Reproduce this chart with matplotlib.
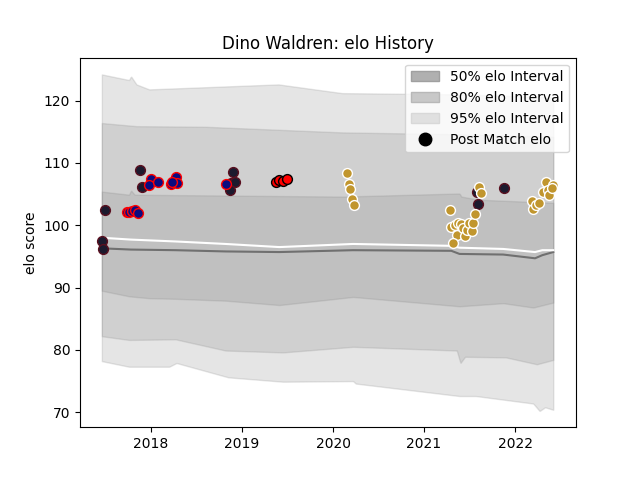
import matplotlib
matplotlib.use("Agg")
import matplotlib.pyplot as plt
from matplotlib.patches import Patch
from matplotlib.lines import Line2D
import numpy as np

# band edges (decimal year, elo)
hi95_d = [2017.46, 2017.76, 2017.78, 2017.84, 2017.98, 2019.40, 2020.10, 2021.4, 2022.42]
hi95_v = [124.2, 123.3, 123.9, 122.6, 121.8, 122.6, 121.2, 121.0, 120.5]
hi80_d = [2017.46, 2017.84, 2018.6, 2020.10, 2021.4, 2022.42]
hi80_v = [116.4, 115.9, 115.8, 114.9, 114.6, 114.2]
hi50_d = [2017.46, 2017.76, 2017.78, 2017.82, 2020.10, 2021.39, 2021.41, 2021.60, 2022.42]
hi50_v = [105.4, 104.9, 105.6, 104.9, 104.6, 105.1, 104.6, 104.1, 103.6]
lo50_d = [2017.46, 2017.76, 2017.98, 2018.27, 2018.82, 2019.41, 2020.22, 2021.39, 2021.87, 2022.20, 2022.42]
lo50_v = [89.5, 88.6, 88.3, 88.2, 87.9, 87.2, 88.5, 87.0, 87.5, 86.8, 87.6]
lo80_d = [2017.46, 2017.76, 2018.27, 2018.82, 2019.45, 2020.22, 2021.36, 2021.40, 2021.45, 2021.90, 2022.24, 2022.42]
lo80_v = [82.2, 81.6, 81.7, 79.9, 79.6, 80.5, 79.9, 77.9, 78.9, 78.8, 77.7, 78.4]
lo95_d = [2017.46, 2017.76, 2018.20, 2018.28, 2018.85, 2019.45, 2020.22, 2020.25, 2021.39, 2021.57, 2022.20, 2022.27, 2022.33, 2022.42]
lo95_v = [78.2, 77.3, 77.3, 77.9, 75.6, 74.9, 75.0, 74.6, 72.6, 72.6, 71.4, 70.2, 70.8, 70.4]

med_d = [2017.46, 2017.78, 2018.27, 2018.82, 2019.41, 2020.22, 2021.30, 2021.39, 2021.87, 2022.22, 2022.30, 2022.42]
white_v = [98.0, 97.7, 97.4, 97.0, 96.5, 97.0, 96.7, 96.4, 96.2, 95.7, 96.0, 96.0]
grey_v = [96.3, 96.1, 96.0, 95.8, 95.7, 96.0, 95.9, 95.4, 95.3, 94.7, 95.2, 95.7]

# post match points
dark_d = [2017.457, 2017.471, 2017.493, 2017.879, 2017.904, 2018.900, 2018.878, 2018.926, 2018.863, 2021.585, 2021.592, 2021.882]
dark_v = [97.5, 96.2, 102.4, 108.9, 106.1, 108.6, 106.8, 106.9, 105.6, 105.3, 103.4, 105.9]
blue_d = [2017.739, 2017.758, 2017.787, 2017.824, 2017.860, 2017.997, 2017.978, 2018.077, 2018.217, 2018.272, 2018.290, 2018.231, 2018.823]
blue_v = [102.1, 102.2, 102.3, 102.4, 101.9, 107.4, 106.5, 107.0, 106.6, 107.8, 106.8, 107.0, 106.6]
red_d = [2019.374, 2019.410, 2019.447, 2019.491]
red_v = [107.0, 107.2, 107.1, 107.4]
gold_d = [2020.152, 2020.174, 2020.190, 2020.207, 2020.226,
          2021.291, 2021.302, 2021.339, 2021.358, 2021.314, 2021.375, 2021.402, 2021.430,
          2021.449, 2021.468, 2021.496, 2021.523, 2021.540, 2021.559, 2021.607, 2021.622,
          2022.184, 2022.202, 2022.231, 2022.261, 2022.342, 2022.312, 2022.367, 2022.378,
          2022.422, 2022.404]
gold_v = [108.4, 106.7, 105.8, 104.2, 103.3,
          102.4, 99.7, 100.1, 98.5, 97.2, 100.3, 100.2, 99.5,
          98.2, 99.3, 100.4, 99.0, 100.4, 101.8, 106.2, 105.2,
          103.9, 102.6, 103.3, 103.5, 107.0, 105.3, 105.6, 104.8,
          106.5, 106.0]

fig, ax = plt.subplots(figsize=(6.4, 4.8), dpi=100)

grid = np.linspace(2017.46, 2022.42, 600)
def band(d1, v1, d2, v2):
    ax.fill_between(grid, np.interp(grid, d1, v1), np.interp(grid, d2, v2),
                    color='grey', alpha=0.2, linewidth=1)

band(lo95_d, lo95_v, hi95_d, hi95_v)
band(lo80_d, lo80_v, hi80_d, hi80_v)
band(lo50_d, lo50_v, hi50_d, hi50_v)

ax.plot(med_d, grey_v, color='#707070', lw=1.5)
ax.plot(med_d, white_v, color='white', lw=1.5)

ax.scatter(dark_d, dark_v, s=50, color='#1c1a2e', edgecolors='#5a1020', zorder=3)
ax.scatter(blue_d, blue_v, s=50, color='#0b0b80', edgecolors='red', zorder=3)
ax.scatter(red_d, red_v, s=50, color='red', edgecolors='black', zorder=3)
ax.scatter(gold_d, gold_v, s=50, color='#c1962e', edgecolors='white', zorder=3)

ax.set_xlim(2017.22, 2022.67)
ax.set_ylim(67.6, 126.9)
ax.set_xticks([2018, 2019, 2020, 2021, 2022])
ax.set_xticklabels(['2018', '2019', '2020', '2021', '2022'])
ax.set_yticks([70, 80, 90, 100, 110, 120])
ax.set_ylabel('elo score')
ax.set_title('Dino Waldren: elo History')

handles = [Patch(facecolor='#b0b0b0', edgecolor='#a0a0a0', label='50% elo Interval'),
           Patch(facecolor='#c8c8c8', edgecolor='#b8b8b8', label='80% elo Interval'),
           Patch(facecolor='#e0e0e0', edgecolor='#d8d8d8', label='95% elo Interval'),
           Line2D([], [], marker='o', color='black', linestyle='none', markersize=9,
                  label='Post Match elo')]
ax.legend(handles=handles, loc='upper right')

plt.savefig('out.png')
